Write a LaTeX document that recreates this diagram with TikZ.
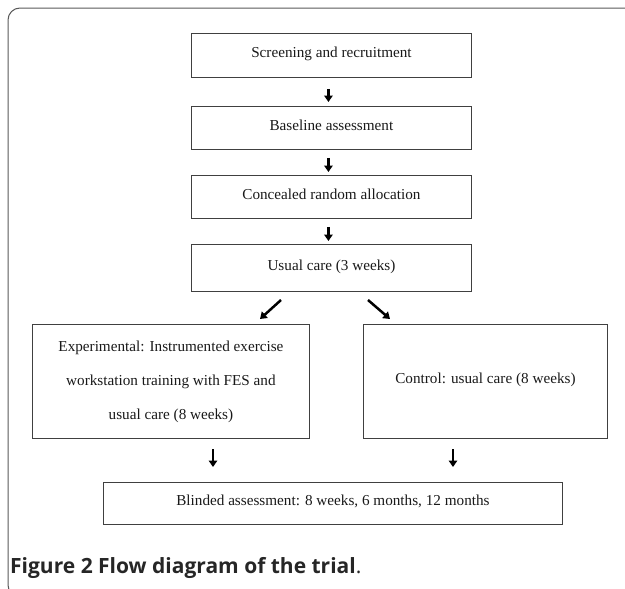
\documentclass[tikz,border=0pt]{standalone}
\usepackage{fontspec}
\setmainfont{Liberation Serif}
\newfontfamily\capfont{Open Sans}
\usetikzlibrary{arrows.meta}
\begin{document}
\begin{tikzpicture}[x=1pt,y=-1pt,
  box/.style={draw=black!75, line width=0.9pt, anchor=north west, inner sep=0pt,
    font=\fontsize{15.2}{18}\selectfont, align=center, text=black!90},
  onel/.style={text height=10.5pt, text depth=5.5pt},
  arr/.style={line width=2.5pt, -{Triangle[length=6.5pt,width=8.5pt]}},
  border/.style={draw=black!65, line width=1pt, rounded corners=12pt}]
\useasboundingbox (0,0) rectangle (625,589);
\begin{scope}
\clip (0,0) rectangle (625,589);
\draw[border] (8,8) rectangle (650,597);
\end{scope}
% boxes
\node[box, onel, minimum width=280pt, minimum height=44pt] (b1) at (191,33) {Screening and recruitment};
\node[box, onel, minimum width=280pt, minimum height=43pt] (b2) at (191,106) {Baseline assessment};
\node[box, onel, minimum width=280pt, minimum height=43pt] (b3) at (191,175) {Concealed random allocation};
\node[box, onel, minimum width=280pt, minimum height=47pt] (b4) at (191,244) {Usual care (3 weeks)};
\node[box, minimum width=277pt, minimum height=114pt, font=\fontsize{15.2}{34}\selectfont] (el) at (32,324)
  {Experimental: Instrumented exercise\\workstation training with FES and\\usual care (8 weeks)};
\node[box, onel, minimum width=244pt, minimum height=114pt] (ct) at (363,324) {Control: usual care (8 weeks)};
\node[box, onel, minimum width=459pt, minimum height=42pt] (bl) at (103,482) {Blinded assessment: 8 weeks, 6 months, 12 months};
% arrows
\draw[arr, shorten <=11pt, shorten >=4pt] ([xshift=-3pt]b1.south) -- ([xshift=-3pt]b2.north);
\draw[arr, shorten <=8pt, shorten >=3pt] ([xshift=-3pt]b2.south) -- ([xshift=-3pt]b3.north);
\draw[arr, shorten <=8pt, shorten >=3pt] ([xshift=-3pt]b3.south) -- ([xshift=-3pt]b4.north);
\coordinate (dl1) at (281,300);
\coordinate (dl2) at (260,319);
\coordinate (dr1) at (368,300);
\coordinate (dr2) at (390,319);
\draw[arr] (dl1) -- (dl2);
\draw[arr] (dr1) -- (dr2);
\coordinate (al1) at (213,449);
\coordinate (al2) at (213,467);
\coordinate (ar1) at (453,449);
\coordinate (ar2) at (453,467);
\draw[arr] (al1) -- (al2);
\draw[arr] (ar1) -- (ar2);
% caption
\node[anchor=base west, inner sep=0pt, text=black!85, font=\capfont\fontsize{21}{24}\selectfont] (cap) at (10,573)
  {\textbf{Figure 2 Flow diagram of the trial}.};
\end{tikzpicture}
\end{document}
